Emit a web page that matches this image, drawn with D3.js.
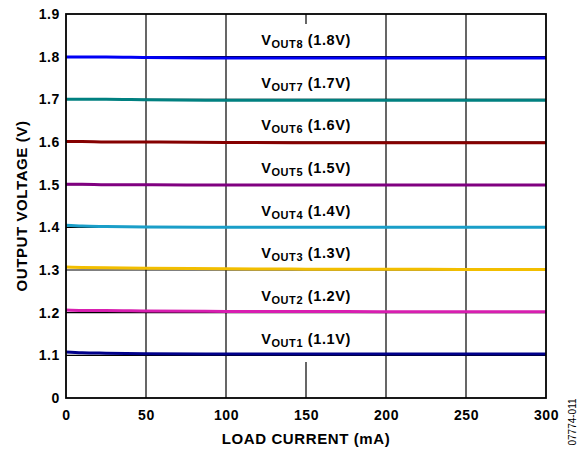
<!DOCTYPE html>
<html>
<head>
<meta charset="utf-8">
<script src="https://cdn.jsdelivr.net/npm/d3@7"></script>
<style>
  body { margin: 0; background: #fff; }
  text { font-family: Arial, "Liberation Sans", sans-serif; font-weight: bold; letter-spacing: 0.6px; }
</style>
</head>
<body>
<div id="chart"></div>
<script>
// data
var loadCurrent = [0, 10, 25, 50, 100, 150, 200, 250, 300];
var vout1 = [1.108, 1.106, 1.105, 1.104, 1.103, 1.103, 1.103, 1.103, 1.103];
var vout2 = [1.206, 1.205, 1.205, 1.204, 1.203, 1.203, 1.202, 1.202, 1.202];
var vout3 = [1.307, 1.306, 1.305, 1.304, 1.303, 1.302, 1.302, 1.301, 1.301];
var vout4 = [1.405, 1.403, 1.402, 1.401, 1.400, 1.400, 1.400, 1.400, 1.400];
var vout5 = [1.501, 1.501, 1.500, 1.500, 1.499, 1.499, 1.499, 1.499, 1.499];
var vout6 = [1.601, 1.601, 1.600, 1.600, 1.599, 1.598, 1.598, 1.598, 1.598];
var vout7 = [1.700, 1.700, 1.700, 1.699, 1.698, 1.698, 1.698, 1.698, 1.698];
var vout8 = [1.799, 1.799, 1.799, 1.798, 1.797, 1.797, 1.797, 1.797, 1.797];
var seriesNames = ['1', '2', '3', '4', '5', '6', '7', '8'];
var seriesNominal = ['1.1V', '1.2V', '1.3V', '1.4V', '1.5V', '1.6V', '1.7V', '1.8V'];
var seriesColors = ['#00008a', '#d81eb0', '#f2be00', '#1a9ec8', '#800080', '#850000', '#008080', '#0000f5'];
var xTicks = [0, 50, 100, 150, 200, 250, 300];
var yTicks = [1.0, 1.1, 1.2, 1.3, 1.4, 1.5, 1.6, 1.7, 1.8, 1.9];

var allSeries = [vout1, vout2, vout3, vout4, vout5, vout6, vout7, vout8];

var width = 578, height = 451;
var margin = {left: 66, right: 32, top: 14, bottom: 53};
var w = width - margin.left - margin.right;
var h = height - margin.top - margin.bottom;

var svg = d3.select('#chart').append('svg')
    .attr('width', width)
    .attr('height', height);

var g = svg.append('g').attr('transform', `translate(${margin.left},${margin.top})`);

var xScale = d3.scaleLinear().domain([0, 300]).range([0, w]);
// axis is broken: bottom tick stands for 0
var yScale = d3.scaleLinear().domain([1.0, 1.9]).range([h, 0]);

// grid
g.selectAll('.vgrid').data(xTicks.filter(d => d != 0 && d != 300 && d != 150))
    .enter().append('line')
    .attr('x1', d => xScale(d)).attr('x2', d => xScale(d))
    .attr('y1', 0).attr('y2', h)
    .attr('stroke', '#000').attr('stroke-width', 1.2);

// 150 only has short ticks because the labels sit in that column
g.append('line').attr('x1', xScale(150)).attr('x2', xScale(150))
    .attr('y1', h - 36).attr('y2', h).attr('stroke', '#000').attr('stroke-width', 1.2);
g.append('line').attr('x1', xScale(150)).attr('x2', xScale(150))
    .attr('y1', 0).attr('y2', 10).attr('stroke', '#000').attr('stroke-width', 1.2);

g.selectAll('.hgrid').data(yTicks.filter(d => d > 1.0 && d < 1.9))
    .enter().append('line')
    .attr('x1', 0).attr('x2', w)
    .attr('y1', d => yScale(d)).attr('y2', d => yScale(d))
    .attr('stroke', '#000').attr('stroke-width', 1.2);

// lines
var line = d3.line()
    .x((d, i) => xScale(loadCurrent[i]))
    .y(d => yScale(d))
    .curve(d3.curveMonotoneX);

allSeries.forEach((s, i) => {
    g.append('path')
        .datum(s)
        .attr('d', line)
        .attr('fill', 'none')
        .attr('stroke', seriesColors[i])
        .attr('stroke-width', 3);

    var lbl = g.append('text')
        .attr('x', xScale(150))
        .attr('y', yScale(+seriesNominal[i].replace('V', '') + 0.05) + 9.5)
        .attr('text-anchor', 'middle')
        .style('font-size', '14.5px');
    lbl.append('tspan').text('V');
    lbl.append('tspan').text('OUT' + seriesNames[i]).attr('dy', 3).style('font-size', '11px');
    lbl.append('tspan').text(' (' + seriesNominal[i] + ')').attr('dy', -3);
});

// frame
g.append('rect').attr('width', w).attr('height', h)
    .attr('fill', 'none').attr('stroke', '#000').attr('stroke-width', 1.8);

// axes
var xAxis = g.append('g').attr('transform', `translate(0,${h})`)
    .call(d3.axisBottom(xScale).tickValues(xTicks).tickSize(0).tickPadding(12));
var yAxis = g.append('g')
    .call(d3.axisLeft(yScale).tickValues(yTicks).tickSize(0).tickPadding(6)
        .tickFormat(d => d == 1.0 ? '0' : d3.format('.1f')(d)));
xAxis.select('.domain').remove();
yAxis.select('.domain').remove();
svg.selectAll('.tick text').style('font-size', '14px').attr('fill', '#000');

// axis titles
svg.append('text')
    .attr('x', margin.left + w / 2)
    .attr('y', 444)
    .attr('text-anchor', 'middle')
    .style('font-size', '15px')
    .text('LOAD CURRENT (mA)');

svg.append('text')
    .attr('transform', `translate(27,${margin.top + h / 2})rotate(-90)`)
    .attr('text-anchor', 'middle')
    .style('font-size', '15px')
    .text('OUTPUT VOLTAGE (V)');

svg.append('text')
    .attr('transform', `translate(576,422)rotate(-90)`)
    .attr('text-anchor', 'middle')
    .style('font-size', '10px')
    .style('font-weight', 'normal')
    .style('letter-spacing', '0')
    .text('07774-011');
</script>
</body>
</html>
